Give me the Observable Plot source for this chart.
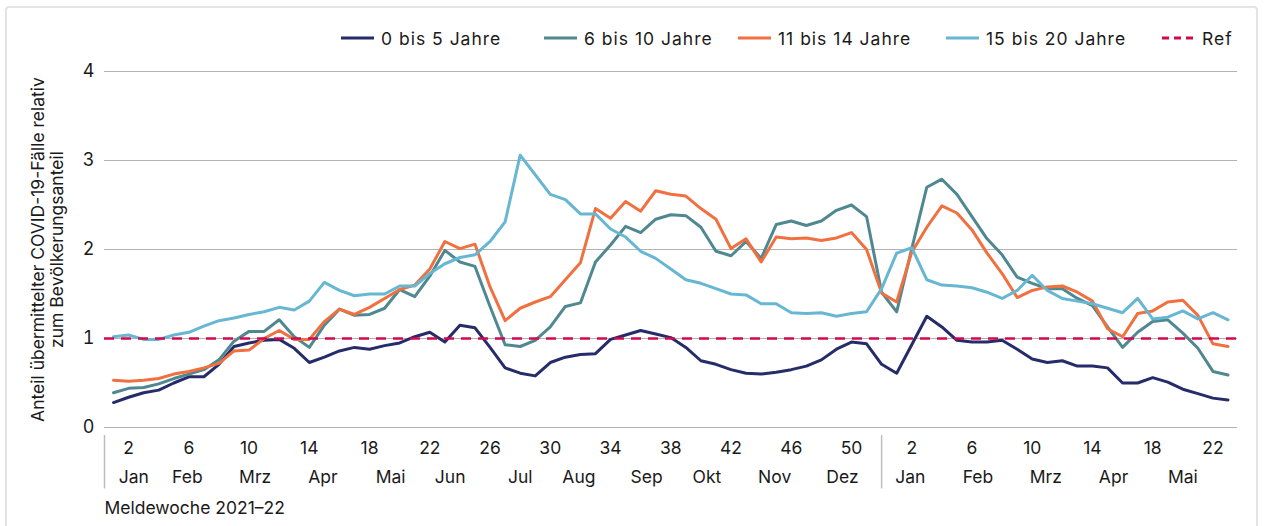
<!DOCTYPE html>
<html><head><meta charset="utf-8">
<script src="https://cdn.jsdelivr.net/npm/d3@7"></script>
<script src="https://cdn.jsdelivr.net/npm/@observablehq/plot@0.6"></script>
<style>
html,body{margin:0;padding:0;background:#fff;}
#wrap{position:relative;width:1267px;height:526px;font-family:Inter,"Noto Sans",sans-serif;color:#1a1a1a;overflow:hidden;}
#border{position:absolute;left:5px;top:6px;width:1253px;height:540px;border:2px solid #e4e4e4;border-radius:4px;box-sizing:border-box;}
#chart{position:absolute;left:0;top:0;}
.leg{position:absolute;top:28px;height:20px;display:flex;align-items:center;font-size:17.5px;letter-spacing:1px;white-space:nowrap;}
</style></head><body>
<div id="wrap"><div id="border"></div><div id="chart"></div><div id="legend"></div></div>
<script>
// Meldewoche index: 1..52 = 2021 weeks 1..52, 53..75 = 2022 weeks 1..23
const weeksIn2021 = 52;
const seriesNames = ["0 bis 5 Jahre", "6 bis 10 Jahre", "11 bis 14 Jahre", "15 bis 20 Jahre"];
const seriesColors = ["#262b6a", "#4f8890", "#f0703f", "#67b7d3"];
const refName = "Ref";
const refColor = "#d3084f";
const refValue = 1;

const age0to5 = [0.28,0.34,0.39,0.42,0.50,0.57,0.57,0.71,0.91,0.95,0.98,0.99,0.89,0.73,0.79,0.86,0.90,0.88,0.92,0.95,
  1.02,1.07,0.96,1.15,1.12,0.90,0.67,0.61,0.58,0.73,0.79,0.82,0.83,0.99,1.04,1.09,1.05,1.01,0.90,0.75,
  0.71,0.65,0.61,0.60,0.62,0.65,0.69,0.76,0.88,0.96,0.94,0.71,0.61,0.93,1.25,1.13,0.98,0.96,0.96,0.98,
  0.88,0.77,0.73,0.75,0.69,0.69,0.67,0.50,0.50,0.56,0.51,0.43,0.38,0.33,0.31];
const age6to10 = [0.39,0.44,0.45,0.49,0.55,0.60,0.65,0.76,0.97,1.08,1.08,1.21,1.02,0.90,1.15,1.33,1.26,1.27,1.34,1.55,
  1.47,1.70,1.99,1.86,1.81,1.36,0.93,0.91,0.98,1.13,1.36,1.40,1.86,2.05,2.26,2.19,2.34,2.39,2.38,2.25,
  1.98,1.93,2.09,1.90,2.28,2.32,2.27,2.32,2.44,2.50,2.37,1.52,1.30,2.01,2.70,2.79,2.62,2.37,2.12,1.94,
  1.69,1.62,1.56,1.56,1.45,1.37,1.13,0.90,1.07,1.19,1.21,1.06,0.89,0.63,0.59];
const age11to14 = [0.53,0.52,0.53,0.55,0.60,0.63,0.67,0.72,0.86,0.87,1.00,1.09,0.99,0.99,1.19,1.33,1.27,1.35,1.45,1.55,
  1.60,1.78,2.09,2.01,2.06,1.58,1.20,1.34,1.41,1.47,1.66,1.85,2.46,2.35,2.54,2.43,2.66,2.62,2.60,2.46,
  2.34,2.01,2.12,1.86,2.14,2.12,2.13,2.10,2.13,2.19,2.00,1.51,1.41,1.97,2.25,2.49,2.41,2.22,1.96,1.73,
  1.46,1.54,1.58,1.59,1.52,1.42,1.11,1.02,1.28,1.31,1.41,1.43,1.26,0.94,0.91];
const age15to20 = [1.02,1.04,0.99,0.99,1.04,1.07,1.14,1.20,1.23,1.27,1.30,1.35,1.32,1.42,1.63,1.54,1.48,1.50,1.50,1.59,
  1.59,1.73,1.84,1.91,1.94,2.09,2.31,3.06,2.84,2.62,2.56,2.40,2.40,2.23,2.14,1.98,1.90,1.78,1.66,1.62,
  1.56,1.50,1.49,1.39,1.39,1.29,1.28,1.29,1.25,1.28,1.30,1.56,1.96,2.02,1.66,1.60,1.59,1.57,1.52,1.45,
  1.54,1.71,1.54,1.45,1.42,1.39,1.34,1.29,1.45,1.22,1.24,1.31,1.22,1.29,1.21];

const yTicks = [0, 1, 2, 3, 4];
const weekTicks = [2,6,10,14,18,22,26,30,34,38,42,46,50,54,58,62,66,70,74];
const monthLabels = ["Jan","Feb","Mrz","Apr","Mai","Jun","Jul","Aug","Sep","Okt","Nov","Dez","Jan","Feb","Mrz","Apr","Mai"];
const monthPos = [2.35,5.9,10.4,14.9,19.4,23.35,28.0,31.9,36.4,40.4,44.9,49.4,53.9,58.4,62.9,67.4,72.0];
const xTitle = "Meldewoche 2021–22";
const yTitle = "Anteil übermittelter COVID-19-Fälle relativ\nzum Bevölkerungsanteil";

const valueArrays = [age0to5, age6to10, age11to14, age15to20];
const rows = seriesNames.flatMap((name, s) => valueArrays[s].map((v, k) => ({week: k + 1, value: v, series: name})));
const months = monthLabels.map((label, k) => ({label, pos: monthPos[k]}));
const xDomain = [0.4, 75.63];
const separators = [xDomain[0], weeksIn2021];
const font = "Inter, 'Noto Sans', sans-serif";
const ls = 1.0;
const fs = 17.5;

const chart = Plot.plot({
  width: 1267,
  height: 526,
  marginTop: 71,
  marginBottom: 99,
  marginLeft: 104,
  marginRight: 30,
  style: {fontFamily: font, fontSize: fs + "px", background: "transparent", color: "#1a1a1a", overflow: "visible"},
  x: {domain: xDomain, axis: null},
  y: {domain: [0, 4], axis: null},
  color: {domain: seriesNames, range: seriesColors},
  marks: [
    Plot.gridY(yTicks, {stroke: "#b3b3b3", strokeOpacity: 1, strokeWidth: 1.2}),
    Plot.axisY(yTicks, {tickSize: 0, tickPadding: 10, fontSize: 18, label: null, tickFormat: d => String(d)}),
    Plot.text(weekTicks, {x: d => d, text: d => String(d > weeksIn2021 ? d - weeksIn2021 : d), frameAnchor: "bottom", textAnchor: "middle", dy: 21, lineAnchor: "middle", fontSize: fs, letterSpacing: ls}),
    Plot.text(months, {x: "pos", text: "label", frameAnchor: "bottom", textAnchor: "middle", dy: 50, lineAnchor: "middle", fontSize: fs, letterSpacing: ls}),
    Plot.ruleX(separators, {y1: -0.09, y2: -0.69, stroke: "#bdbdbd", strokeWidth: 1.5}),
    Plot.line(rows, {x: "week", y: "value", z: "series", stroke: "series", strokeWidth: 3, strokeLinejoin: "round"}),
    Plot.ruleY([refValue], {stroke: refColor, strokeWidth: 2.6, strokeDasharray: "10,7"}),
    Plot.text([xTitle], {frameAnchor: "bottom-left", dy: 81, textAnchor: "start", lineAnchor: "middle", fontSize: fs, letterSpacing: ls}),
    Plot.text([yTitle], {frameAnchor: "left", dx: -57, rotate: -90, textAnchor: "middle", lineAnchor: "middle", lineHeight: 1.05, fontSize: fs, letterSpacing: ls})
  ]
});
document.getElementById("chart").appendChild(chart);

// legend
const legendItems = seriesNames.map((n, i) => ({name: n, color: seriesColors[i], dash: null}))
  .concat([{name: refName, color: refColor, dash: "7,5"}]);
const legendX = [341, 544, 738, 946, 1162];
const legend = document.getElementById("legend");
legendItems.forEach((it, i) => {
  const d = document.createElement("div");
  d.className = "leg";
  d.style.left = legendX[i] + "px";
  d.innerHTML = `<svg width="34" height="20" style="margin-right:6px"><line x1="0" x2="33" y1="10" y2="10" stroke="${it.color}" stroke-width="3" ${it.dash ? `stroke-dasharray="${it.dash}"` : ""}/></svg><span>${it.name}</span>`;
  legend.appendChild(d);
});
</script>
</body></html>
